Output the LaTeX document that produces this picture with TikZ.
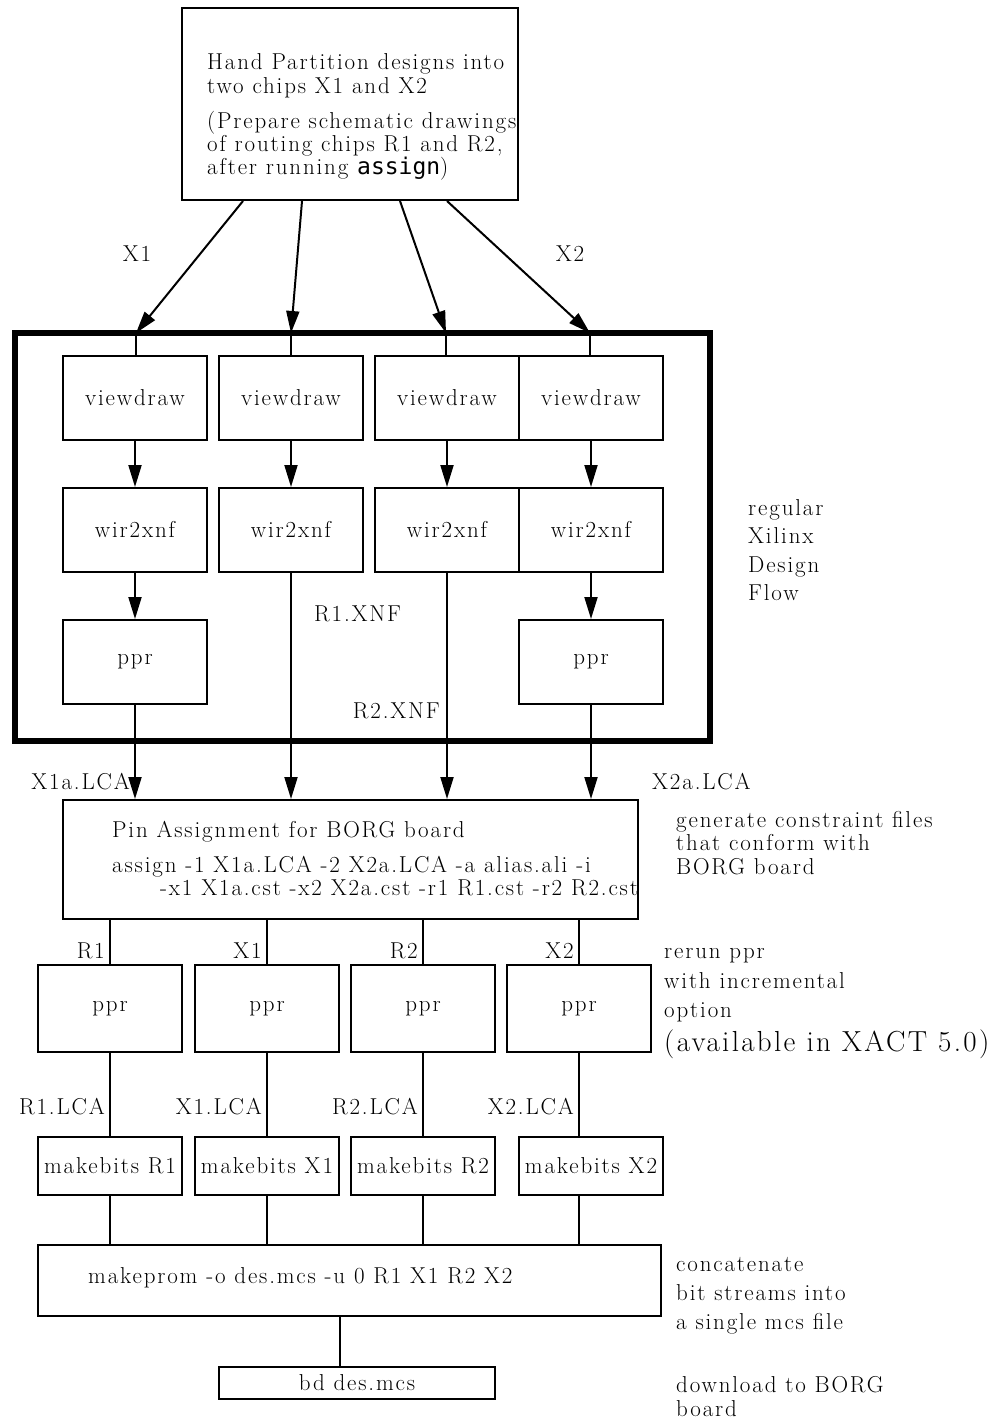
\documentclass[tikz,border=0pt]{standalone}
\usepackage{fontspec}
\setmainfont{Latin Modern Roman}[LetterSpace=8]
\newfontfamily\monosans{DejaVu Sans Mono}
\usetikzlibrary{arrows.meta}
\tikzset{
  every node/.style={font=\fontsize{23}{23}\selectfont},
  box/.style={draw, line width=2pt, inner sep=0pt, fill=white},
  arr/.style={line width=2pt, -{Triangle[length=22pt,width=13pt]}},
  ln/.style={line width=2pt},
  lw/.style={inner sep=0pt, anchor=base west},
  le/.style={inner sep=0pt, anchor=base east},
  lc/.style={inner sep=0pt, anchor=base},
}
\begin{document}
\begin{tikzpicture}[x=1pt,y=-1pt]
\useasboundingbox (0,0) rectangle (1001,1420);
% top box
\node[box, minimum width=336pt, minimum height=192pt] (top) at (350,104) {};
\node[lw] (t1) at (207,70) {Hand Partition designs into};
\node[lw] (t2) at (207,94) {two chips X1 and X2};
\node[lw] (t3) at (207,129) {(Prepare schematic drawings};
\node[lw] (t4) at (207,152) {of routing chips R1 and R2,};
\node[lw] (t5) at (207,175) {after running {\monosans assign})};
% thick frame
\node[draw, line width=5.5pt, minimum width=695pt, minimum height=408pt, inner sep=0pt] (flow) at (362.5,537) {};
\coordinate (e1) at (136,333);
\coordinate (e2) at (291,333);
\coordinate (e3) at (446,333);
\coordinate (e4) at (590,333);
\draw[arr] ([xshift=-107pt]top.south) -- (e1);
\draw[arr] ([xshift=-48pt]top.south) -- (e2);
\draw[arr] ([xshift=50pt]top.south) -- (e3);
\draw[arr] ([xshift=97pt]top.south) -- (e4);
\node[lc] (lx1) at (137,262) {X1};
\node[lc] (lx2) at (570,262) {X2};
% viewdraw row
\foreach \i/\xx in {1/135,2/291,3/447,4/591}{
  \node[box, minimum width=144pt, minimum height=84pt] (v\i) at (\xx,398) {viewdraw};
  \node[box, minimum width=144pt, minimum height=84pt] (w\i) at (\xx,530) {wir2xnf};
  \draw[arr] (v\i.south) -- (w\i.north);
}
\draw[ln] (e1) -- (e1 |- v1.north);
\draw[ln] (e2) -- (e2 |- v2.north);
\draw[ln] (e3) -- (e3 |- v3.north);
\draw[ln] (e4) -- (e4 |- v4.north);
\node[box, minimum width=144pt, minimum height=84pt] (p1) at (135,662) {ppr};
\node[box, minimum width=144pt, minimum height=84pt] (p4) at (591,662) {ppr};
\draw[arr] (w1.south) -- (p1.north);
\draw[arr] (w4.south) -- (p4.north);
% pin assignment
\node[box, minimum width=575pt, minimum height=119pt] (pin) at (350.5,859.5) {};
\node[lw] (pa1) at (112,837) {Pin Assignment for BORG board};
\node[lw] (pa2) at (112,872) {assign -1 X1a.LCA -2 X2a.LCA -a alias.ali -i};
\node[lw] (pa3) at (160,895) {-x1 X1a.cst -x2 X2a.cst -r1 R1.cst -r2 R2.cst};
\draw[arr] (p1.south) -- (pin.north -| p1);
\draw[arr] (w2.south) -- (pin.north -| w2);
\draw[arr] (w3.south) -- (pin.north -| w3);
\draw[arr] (p4.south) -- (pin.north -| p4);
\node[lw] (r1x) at (314,621) {R1.XNF};
\node[le] (r2x) at (440,718) {R2.XNF};
\node[le] (x1a) at (130,789) {X1a.LCA};
\node[lw] (x2a) at (652,789) {X2a.LCA};
% lower ppr and makebits
\foreach \i/\xx/\mx/\lab/\llab in {1/110/110/R1/R1.LCA,2/267/267/X1/X1.LCA,3/423/423/R2/R2.LCA,4/579/591/X2/X2.LCA}{
  \node[box, minimum width=144pt, minimum height=87pt] (q\i) at (\xx,1008.5) {ppr};
  \node[box, minimum width=144pt, minimum height=58pt] (m\i) at (\mx,1166) {makebits \lab};
  \draw[ln] (pin.south -| q\i) -- (q\i.north);
  \draw[ln] (q\i.south) -- (m\i.north -| q\i);
  \node[le] (ql\i) at ([xshift=-5pt]q\i.north |- 0,958) {\lab};
  \node[le] (ml\i) at ([xshift=-5pt]q\i.north |- 0,1114) {\llab};
}
\node[box, minimum width=623pt, minimum height=71pt] (mp) at (349.5,1280.5) {};
\node[lw] (mpt) at (88,1283) {makeprom -o des.mcs -u 0 R1 X1 R2 X2};
\foreach \i in {1,2,3,4}{
  \draw[ln] (m\i.south -| q\i) -- (mp.north -| q\i);
}
\node[box, minimum width=276pt, minimum height=32pt] (bd) at (357,1383) {bd des.mcs};
\coordinate (c5) at (340,0);
\draw[ln] (mp.south -| c5) -- (bd.north -| c5);
% side notes
\node[lw] (s1) at (748,515) {regular};
\node[lw] (s2) at (748,543) {Xilinx};
\node[lw] (s3) at (748,572) {Design};
\node[lw] (s4) at (748,600) {Flow};
\node[lw] (g1) at (676,827) {generate constraint files};
\node[lw] (g2) at (676,850) {that conform with};
\node[lw] (g3) at (676,874) {BORG board};
\node[lw] (n1) at (664,958) {rerun ppr};
\node[lw] (n2) at (664,988) {with incremental};
\node[lw] (n3) at (664,1017) {option};
\node[lw, font=\fontsize{29}{29}\selectfont] (n4) at (664,1051) {(available in XACT 5.0)};
\node[lw] (c1) at (676,1271) {concatenate};
\node[lw] (c2) at (676,1300) {bit streams into};
\node[lw] (c3) at (676,1329) {a single mcs file};
\node[lw] (d1) at (676,1392) {download to BORG};
\node[lw] (d2) at (676,1416) {board};
\end{tikzpicture}
\end{document}
